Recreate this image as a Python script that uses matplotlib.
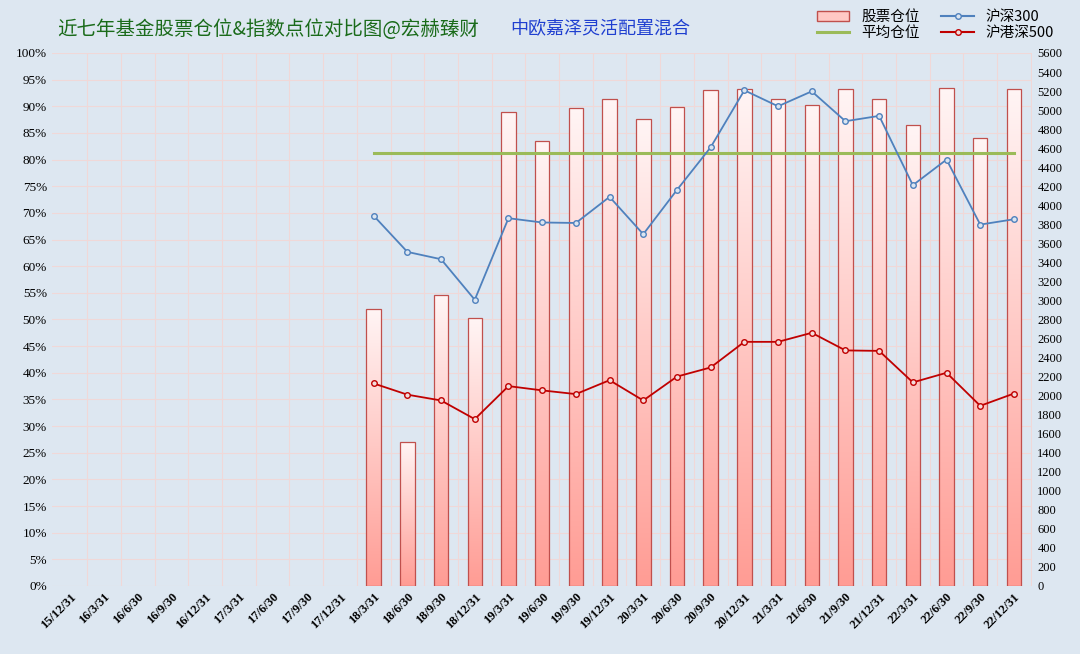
import matplotlib
matplotlib.use('Agg')
import matplotlib.pyplot as plt
import numpy as np
from matplotlib.lines import Line2D
from matplotlib.patches import Patch
from matplotlib.colors import LinearSegmentedColormap

plt.rcParams['font.family'] = ['Noto Sans CJK SC', 'DejaVu Sans']

categories = ['15/12/31','16/3/31','16/6/30','16/9/30','16/12/31','17/3/31','17/6/30','17/9/30','17/12/31',
              '18/3/31','18/6/30','18/9/30','18/12/31','19/3/31','19/6/30','19/9/30','19/12/31',
              '20/3/31','20/6/30','20/9/30','20/12/31','21/3/31','21/6/30','21/9/30','21/12/31',
              '22/3/31','22/6/30','22/9/30','22/12/31']
stock_pos = [None]*9 + [52.0, 27.1, 54.5, 50.2, 89.0, 83.5, 89.7, 91.3, 87.6, 89.8, 93.0, 93.3, 91.3, 90.3,
                        93.2, 91.3, 86.5, 93.4, 84.0, 93.2]
avg_pos = 81.3
hs300 = [None]*9 + [3890, 3510, 3433, 3007, 3864, 3819, 3814, 4088, 3696, 4161, 4609, 5208, 5040, 5197,
                    4883, 4939, 4211, 4480, 3797, 3853]
hgs500 = [None]*9 + [2128, 2010, 1949, 1753, 2100, 2055, 2016, 2162, 1949, 2200, 2296, 2565, 2565, 2660,
                     2475, 2470, 2139, 2240, 1893, 2022]

bg = '#dde7f1'
fig = plt.figure(figsize=(10.8, 6.54), dpi=100, facecolor=bg)
ax = fig.add_axes([0.048, 0.104, 0.908, 0.815], facecolor=bg)
ax2 = ax.twinx()

x = np.arange(len(categories))
idx = [i for i, v in enumerate(stock_pos) if v is not None]
grad = np.linspace(0, 1, 256).reshape(-1, 1)
cmap = LinearSegmentedColormap.from_list('g', ['#ff9c94', '#fff5f5'])
w = 0.43
for i in idx:
    v = stock_pos[i]
    b = ax.bar(x[i], v, width=w, facecolor='none', edgecolor='#c0504d', linewidth=0.9, zorder=3)[0]
    im = ax.imshow(grad, extent=(x[i]-w/2, x[i]+w/2, 0, v), origin='lower', cmap=cmap, aspect='auto', zorder=2)
    im.set_clip_path(b)
ax.plot([idx[0], idx[-1]], [avg_pos, avg_pos], color='#9bbb59', lw=2.2, zorder=4)

ax.set_xlim(-0.55, len(categories)-0.45)
ax.set_ylim(0, 100)
ax.set_yticks(np.arange(0, 101, 5))
ax.set_yticklabels([f'{t}%' for t in range(0, 101, 5)], fontsize=9.5, family=['Liberation Serif'])
ax.set_xticks(x)
ax.set_xticklabels(categories, rotation=45, ha='right', rotation_mode='anchor', fontsize=9, family=['Liberation Serif'], fontweight='bold')
ax.set_xticks(np.arange(0.5, len(categories), 1), minor=True)
ax.grid(True, which='major', axis='y', color='#f0d8d8', lw=0.8)
ax.grid(True, which='minor', axis='x', color='#f0d8d8', lw=0.8)
ax.set_axisbelow(True)
ax.tick_params(which='both', length=0)
for s in ax.spines.values():
    s.set_visible(False)
for s in ax2.spines.values():
    s.set_visible(False)

xs = [x[i] for i in idx]
ax2.plot(xs, [hs300[i] for i in idx], color='#4f81bd', lw=1.3, marker='o', ms=4, mfc='#dbe5f1', mec='#4f81bd', zorder=5)
ax2.plot(xs, [hgs500[i] for i in idx], color='#c00000', lw=1.3, marker='o', ms=4, mfc='#f2dcdb', mec='#c00000', zorder=5)
ax2.set_ylim(0, 5600)
ax2.set_yticks(np.arange(0, 5601, 200))
ax2.set_yticklabels([str(t) for t in range(0, 5601, 200)], fontsize=9, family=['Liberation Serif'])
ax2.tick_params(length=0)

fig.text(0.053, 0.955, '近七年基金股票仓位&指数点位对比图@宏赫臻财', fontsize=14, color='#1a6b1a', va='center')
fig.text(0.472, 0.955, '中欧嘉泽灵活配置混合', fontsize=13, color='#1f3fd0', va='center')

handles = [Patch(facecolor='#ffc8c4', edgecolor='#c0504d'), Line2D([], [], color='#9bbb59', lw=2.2),
           Line2D([], [], color='#4f81bd', marker='o', ms=4, mfc='#dbe5f1'),
           Line2D([], [], color='#c00000', marker='o', ms=4, mfc='#f2dcdb')]
fig.legend(handles, ['股票仓位', '平均仓位', '沪深300', '沪港深500'], ncol=2, loc='upper right',
           bbox_to_anchor=(0.985, 1.0), frameon=False, fontsize=10.5, handlelength=2.2,
           columnspacing=1.5, labelspacing=0.1, borderaxespad=0.3)

fig.savefig('out.png', dpi=100, facecolor=bg)
